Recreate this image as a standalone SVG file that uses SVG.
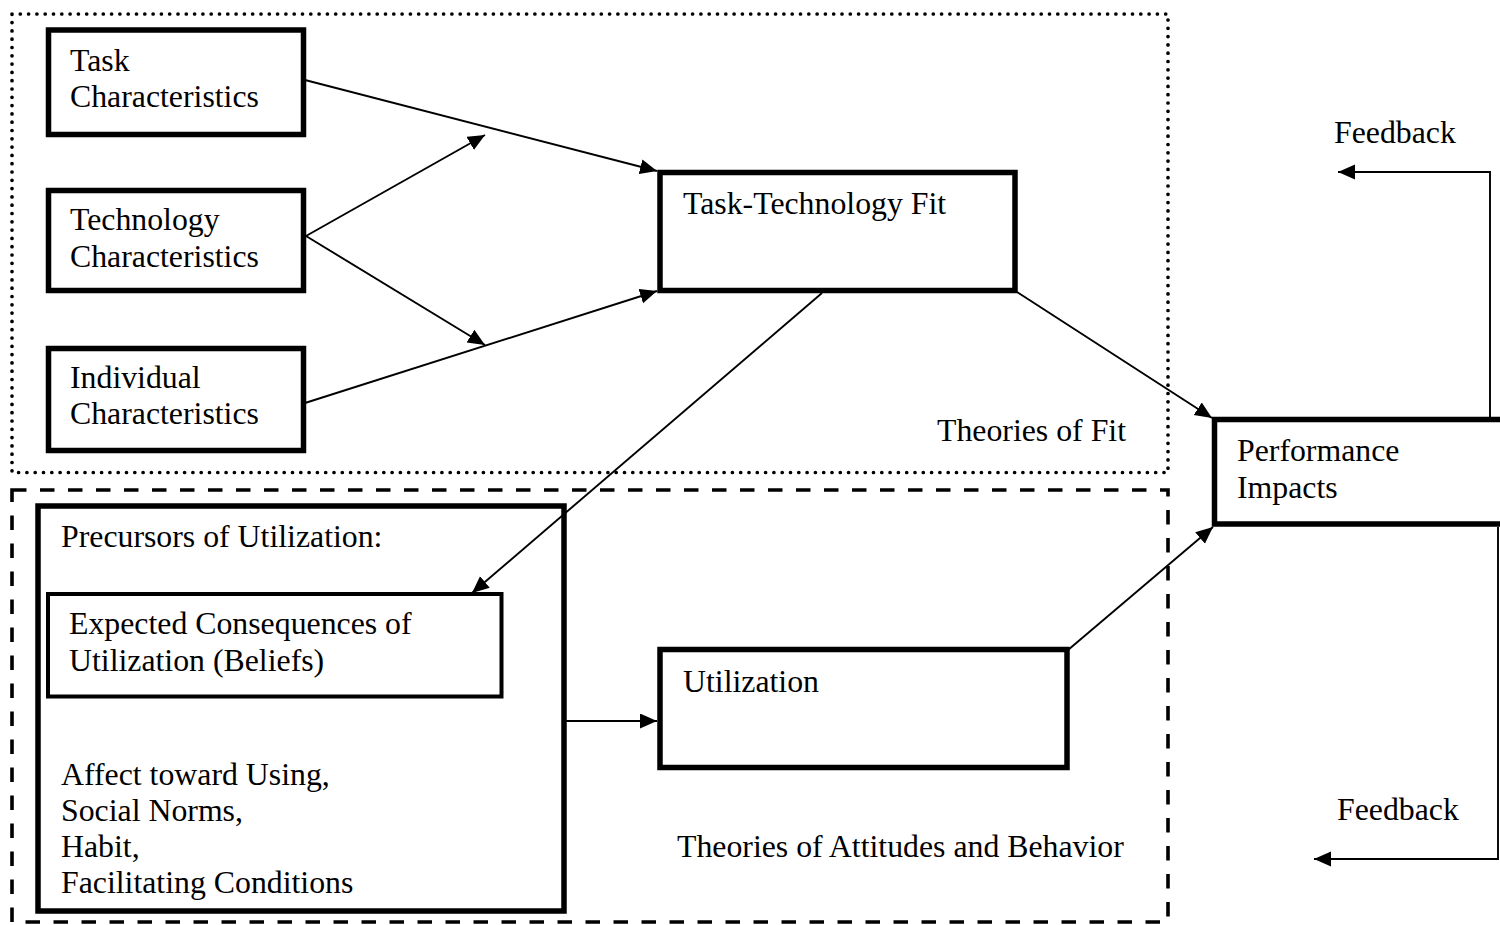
<svg xmlns="http://www.w3.org/2000/svg" width="1500" height="925" viewBox="0 0 1500 925">
<style>
text{font-family:"Liberation Serif","Times New Roman",serif;font-size:31.8px;fill:#000}
.box{fill:none;stroke:#000;stroke-width:5.5}
.thin{fill:none;stroke:#000;stroke-width:4}
.dot{fill:none;stroke:#000;stroke-width:3.7;stroke-dasharray:0 8.3;stroke-linecap:round}
.dash{fill:none;stroke:#000;stroke-width:3.6;stroke-dasharray:14.5 13.5}
.ca{fill:none;stroke:#000;stroke-width:1.9;marker-end:url(#ah)}
</style>
<defs>
<marker id="ah" markerUnits="userSpaceOnUse" markerWidth="18" markerHeight="16" refX="17" refY="7.5" orient="auto">
<path d="M0,0 L17,7.5 L0,15 z" fill="#000"/>
</marker>
</defs>
<rect width="1500" height="925" fill="#fff"/>
<g id="theories-of-fit">
<rect class="dot" x="12" y="14" width="1156" height="458.5"/>
<text x="937" y="441">Theories of Fit</text>
</g>
<g id="theories-of-attitudes">
<rect class="dash" x="12" y="490" width="1156" height="432"/>
<text x="677" y="857">Theories of Attitudes and Behavior</text>
</g>
<g id="task">
<rect class="box" x="48.5" y="30" width="255" height="104.5"/>
<text x="70" y="71">Task</text>
<text x="70" y="107">Characteristics</text>
</g>
<g id="technology">
<rect class="box" x="48.5" y="190.5" width="255" height="100"/>
<text x="70" y="230">Technology</text>
<text x="70" y="267">Characteristics</text>
</g>
<g id="individual">
<rect class="box" x="48.5" y="348.5" width="255" height="102"/>
<text x="70" y="388">Individual</text>
<text x="70" y="424">Characteristics</text>
</g>
<g id="ttf">
<rect class="box" x="660" y="172.5" width="355" height="118"/>
<text x="683" y="214">Task-Technology Fit</text>
</g>
<g id="performance">
<rect class="box" x="1214.5" y="419.5" width="320" height="104.5"/>
<text x="1237" y="461">Performance</text>
<text x="1237" y="498">Impacts</text>
</g>
<g id="precursors">
<rect class="box" x="38" y="506" width="526" height="405"/>
<text x="61" y="547">Precursors of Utilization:</text>
<text x="61" y="785">Affect toward Using,</text>
<text x="61" y="821">Social Norms,</text>
<text x="61" y="857">Habit,</text>
<text x="61" y="893">Facilitating Conditions</text>
</g>
<g id="expected">
<rect class="thin" x="48" y="594" width="453.5" height="102.5"/>
<text x="69" y="634">Expected Consequences of</text>
<text x="69" y="671">Utilization (Beliefs)</text>
</g>
<g id="utilization">
<rect class="box" x="660" y="649.5" width="407" height="118"/>
<text x="683" y="692">Utilization</text>
</g>
<g id="feedback-labels">
<text x="1334" y="143">Feedback</text>
<text x="1337" y="820">Feedback</text>
</g>
<g id="connectors">
<line class="ca" x1="305" y1="80" x2="657" y2="171"/>
<line class="ca" x1="306" y1="236" x2="485" y2="135"/>
<line class="ca" x1="306" y1="236" x2="485" y2="345"/>
<line class="ca" x1="305" y1="403" x2="657" y2="291"/>
<line class="ca" x1="822" y1="293" x2="472" y2="593"/>
<line class="ca" x1="1017" y1="292" x2="1212" y2="418"/>
<line class="ca" x1="1068" y1="650" x2="1213" y2="527"/>
<line class="ca" x1="564" y1="721" x2="657" y2="721"/>
<polyline class="ca" points="1490,417 1490,172 1338,172"/>
<polyline class="ca" points="1498,527 1498,859 1314,859"/>
</g>
</svg>
